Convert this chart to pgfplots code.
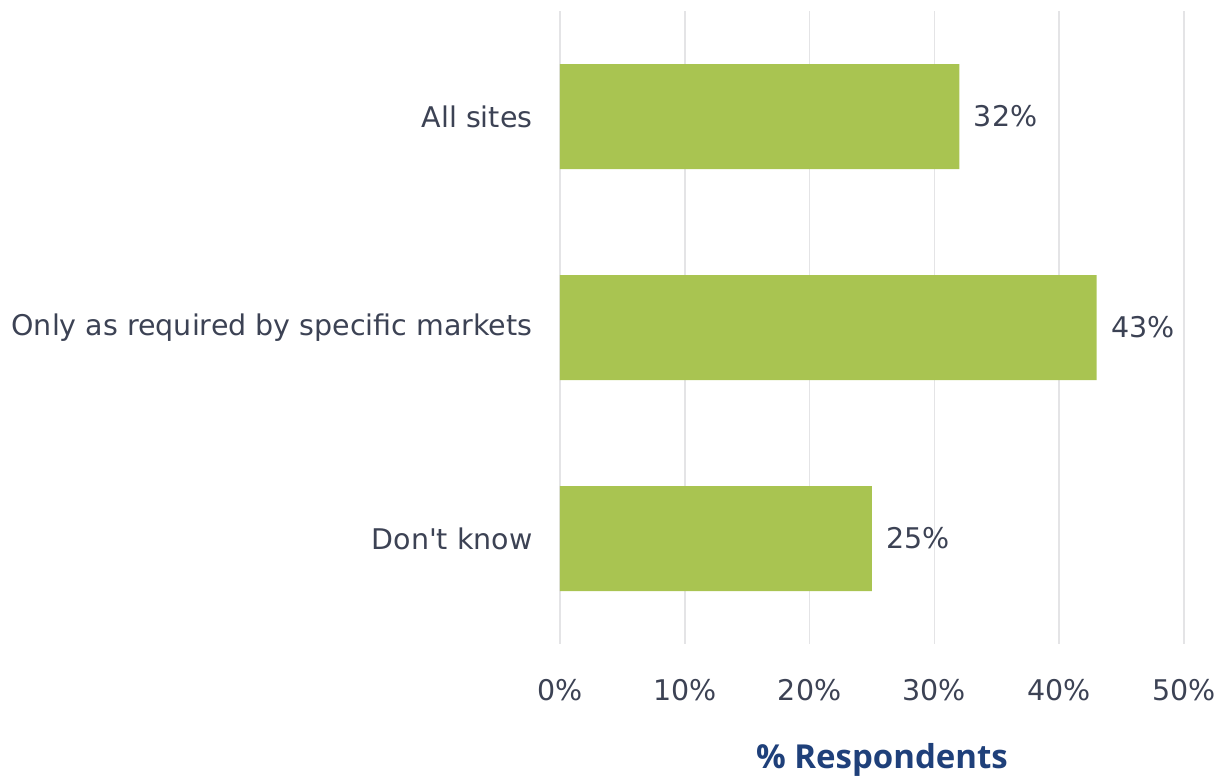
\documentclass[border=0pt]{standalone}
\usepackage{pgfplots}
\pgfplotsset{compat=1.18}
\usepackage{fontspec}
\setmainfont{DejaVu Sans}
\newfontfamily\labelfont{Open Sans}

\definecolor{bargreen}{RGB}{169,196,81}
\definecolor{txt}{RGB}{60,66,84}
\definecolor{gridgray}{RGB}{228,228,230}
\definecolor{navy}{RGB}{31,64,122}

\begin{document}
\begin{tikzpicture}
  \begin{axis}[
    name=ax,
    scale only axis,
    width=624pt, height=633pt,
    xbar, bar width=105pt,
    xmin=0, xmax=50,
    ymin=-0.5, ymax=2.5,
    y dir=reverse,
    axis line style={draw=none},
    major tick length=0pt,
    xtick={0,10,20,30,40,50},
    xticklabel={\pgfmathprintnumber{\tick}\%},
    ytick={0,1,2},
    yticklabels={All sites, Only as required by specific markets, Don\textquotesingle t know},
    xmajorgrids,
    grid style={gridgray, line width=1.5pt},
    /pgf/number format/assume math mode=true,
    tick label style={font=\fontsize{28.5}{34}\selectfont, text=txt},
    xticklabel style={yshift=-32pt},
    yticklabel style={xshift=-24pt},
    xlabel={\labelfont\bfseries\% Respondents},
    xlabel style={font=\fontsize{33}{38}\selectfont, text=navy, yshift=-35pt, xshift=10pt},
    nodes near coords={\pgfmathprintnumber{\pgfplotspointmeta}\%},
    point meta=x,
    nodes near coords style={font=\fontsize{28.5}{34}\selectfont, text=txt, anchor=west, xshift=11pt},
  ]
    \addplot[fill=bargreen, draw=none] coordinates {
      (32,0)
      (43,1)
      (25,2)
    };
  \end{axis}
  \pgfresetboundingbox
  \useasboundingbox (ax.south west) ++(-560pt,-132pt) rectangle ++(1224pt,776pt);
\end{tikzpicture}
\end{document}
